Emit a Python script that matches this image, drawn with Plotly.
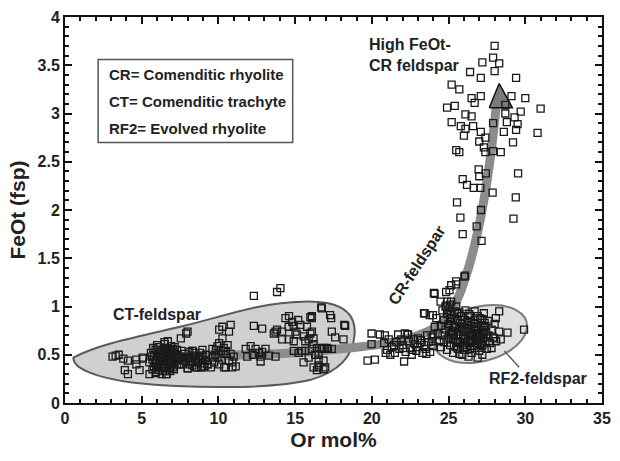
import plotly.graph_objects as go

# Feldspar analyses: Or content (mol%) and FeOt (wt%)
ct_x = [3.1, 3.3, 3.5, 3.8, 4.1, 3.9, 4.1, 4.65, 5.07, 4.65, 4.86, 5.07, 5.51, 5.94, 6.59, 7.02, 6.8, 6.48, 6.92, 6.63,
        5.6, 5.7, 5.8, 5.9, 6.0, 6.0, 6.1, 6.1, 6.2, 6.2, 6.3, 6.3, 6.4, 6.4, 6.5, 6.5, 6.6, 6.6, 6.7, 6.7,
        6.8, 6.8, 6.9, 6.9, 7.0, 7.0, 7.1, 7.1, 7.2, 7.3, 7.3, 7.4, 5.5, 5.7, 5.9, 6.3, 6.0, 6.5, 6.7, 5.8,
        6.35, 6.55, 6.85, 7.15, 6.15, 5.95,
        5.65, 5.85, 6.05, 6.25, 6.45, 6.65, 6.85, 7.05, 7.25, 5.75, 5.95, 6.15, 6.35, 6.55, 6.75, 6.95,
        7.15, 7.35, 6.05, 6.45, 6.85, 7.6, 7.85, 8.15, 8.45, 8.65, 8.95, 9.15,
        7.5, 7.6, 7.7, 7.8, 7.9, 8.0, 8.0, 8.1, 8.2, 8.3, 8.4, 8.5, 8.6, 8.7, 8.8, 8.9, 9.0, 9.1, 9.2, 9.3,
        7.55, 7.9, 8.3, 8.1, 8.75, 8.96, 9.29, 8.54, 7.99, 7.45, 7.99,
        9.61, 9.94, 10.16, 10.48, 10.69, 10.91, 11.13, 10.37, 9.72, 9.94, 10.05, 10.26, 10.8, 10.69, 10.26,
        10.05, 10.48, 10.8, 10.91, 10.05, 9.61, 9.83, 8.96, 8.86, 9.51, 10.48, 8.32, 10.2, 10.6, 9.8, 10.35, 11.0,
        11.78, 12.1, 12.42, 12.85, 12.75, 13.72, 11.88, 12.25, 12.75, 12.64, 13.29, 13.07, 12.31, 12.85,
        12.31, 13.82, 14.04,
        14.37, 14.8, 14.58, 14.15, 15.02, 15.34, 15.77, 15.99, 15.56, 15.12, 14.58, 14.15, 13.82, 13.61,
        15.88, 16.2, 14.91, 16.09, 15.99, 14.6, 14.9, 15.2, 13.72,
        14.91, 15.23, 15.66, 16.09, 16.42, 16.74, 17.07, 17.39, 16.31, 16.53, 16.85, 16.53, 16.42, 16.96,
        16.53, 16.85, 16.2, 15.55, 15.88, 16.53, 17.13, 16.85, 15.44,
        16.74, 17.35, 16.09, 18.26, 18.15, 17.61, 17.39, 16.09, 15.66, 16.2, 17.28, 16.7, 18.2]
ct_y = [0.48, 0.49, 0.50, 0.46, 0.44, 0.34, 0.30, 0.45, 0.46, 0.40, 0.34, 0.47, 0.30, 0.32, 0.30, 0.37, 0.42, 0.63, 0.59, 0.30,
        0.52, 0.45, 0.38, 0.55, 0.48, 0.41, 0.34, 0.58, 0.51, 0.44, 0.37, 0.55, 0.47, 0.40, 0.33, 0.53, 0.46, 0.57, 0.42, 0.50,
        0.36, 0.55, 0.45, 0.39, 0.52, 0.47, 0.35, 0.43, 0.50, 0.40, 0.55, 0.45, 0.42, 0.35, 0.31, 0.30, 0.60, 0.61, 0.64, 0.49,
        0.50, 0.39, 0.49, 0.58, 0.47, 0.44,
        0.48, 0.41, 0.53, 0.46, 0.38, 0.52, 0.43, 0.56, 0.46, 0.57, 0.37, 0.40, 0.43, 0.49, 0.36, 0.54,
        0.48, 0.50, 0.37, 0.57, 0.33, 0.54, 0.46, 0.40, 0.52, 0.42, 0.49, 0.44,
        0.48, 0.40, 0.44, 0.51, 0.42, 0.36, 0.47, 0.53, 0.44, 0.39, 0.49, 0.43, 0.37, 0.47, 0.52, 0.41, 0.45, 0.38, 0.50, 0.40,
        0.67, 0.72, 0.54, 0.47, 0.46, 0.37, 0.40, 0.37, 0.36, 0.40, 0.74,
        0.56, 0.59, 0.54, 0.51, 0.44, 0.42, 0.38, 0.37, 0.42, 0.47, 0.76, 0.79, 0.81, 0.74, 0.67,
        0.62, 0.54, 0.51, 0.37, 0.40, 0.47, 0.55, 0.55, 0.37, 0.37, 0.37, 0.54, 0.45, 0.60, 0.50, 0.57, 0.48,
        0.56, 0.59, 0.56, 0.53, 0.48, 0.48, 0.48, 0.50, 0.43, 0.52, 0.49, 0.56, 0.80, 0.77,
        1.11, 1.15, 1.19,
        0.88, 0.84, 0.79, 0.74, 0.74, 0.81, 0.79, 0.72, 0.69, 0.71, 0.66, 0.66, 0.76, 0.72,
        0.66, 0.67, 0.64, 0.90, 0.89, 0.90, 0.80, 0.86, 0.74,
        0.54, 0.52, 0.54, 0.56, 0.57, 0.56, 0.57, 0.56, 0.50, 0.45, 0.44, 0.37, 0.34, 0.37,
        0.39, 0.35, 0.37, 0.42, 0.47, 0.50, 0.56, 0.57, 0.54,
        0.98, 0.88, 0.88, 0.80, 0.66, 0.68, 0.74, 0.74, 0.64, 0.61, 0.91, 0.99, 0.81]

cr_x = [19.98, 20.52, 20.85, 19.98, 19.72, 20.2, 22.1, 21.71, 22.31, 23.0, 22.15, 22.36, 23.44, 23.98, 24.09,
        20.8, 21.0, 21.1, 21.3, 21.5, 21.6, 21.8, 21.9, 22.0, 22.2, 22.4, 22.5, 22.6, 22.8, 22.9, 23.0,
        23.2, 23.3, 23.4, 23.5, 23.7, 23.8, 23.9, 24.0, 21.2, 22.7, 23.6, 20.9,
        21.45, 22.05, 22.65, 23.15, 23.55, 23.95,
        25.49, 25.17, 25.06, 24.84, 24.04, 26.07, 25.49, 26.03,
        26.96, 27.43, 27.0, 29.53, 25.92, 26.2, 26.64, 27.07, 27.87, 29.38, 25.55, 27.11, 25.77, 29.23,
        26.83, 25.92, 27.15,
        28.0, 27.2, 27.9, 28.3, 28.0, 26.4, 27.1, 29.4, 25.2, 25.7, 26.5, 27.1, 26.7, 29.1, 30.0, 31.0,
        24.9, 25.4, 28.7, 26.1, 26.5, 28.7, 29.7, 29.3, 28.8, 27.9, 29.5, 25.2, 25.8, 26.1, 26.6, 27.1,
        28.6, 29.4, 30.8, 26.0, 27.0, 27.4, 29.2, 27.3, 25.5, 25.7, 27.4, 27.9, 28.4]
cr_y = [0.72, 0.71, 0.70, 0.61, 0.44, 0.45, 0.43, 0.71, 0.71, 0.67, 0.72, 0.71, 0.93, 0.91, 1.13,
        0.62, 0.55, 0.66, 0.58, 0.52, 0.63, 0.56, 0.66, 0.60, 0.53, 0.64, 0.57, 0.50, 0.61, 0.54, 0.58,
        0.65, 0.52, 0.60, 0.56, 0.63, 0.53, 0.68, 0.59, 0.50, 0.66, 0.70, 0.52,
        0.60, 0.57, 0.55, 0.62, 0.51, 0.64,
        1.23, 1.22, 1.17, 1.15, 1.14, 1.32, 1.26, 1.31,
        2.42, 2.38, 2.35, 2.38, 2.32, 2.26, 2.23, 2.23, 2.18, 2.13, 2.08, 2.00, 1.92, 1.91,
        1.83, 1.75, 1.68,
        3.70, 3.53, 3.58, 3.52, 3.44, 3.43, 3.37, 3.37, 3.30, 3.25, 3.16, 3.18, 3.11, 3.18, 3.16, 3.05,
        3.06, 3.08, 3.09, 2.99, 2.97, 3.00, 3.02, 2.96, 2.91, 2.90, 2.89, 2.91, 2.87, 2.84, 2.87, 2.81,
        2.81, 2.83, 2.80, 2.77, 2.71, 2.75, 2.70, 2.65, 2.62, 2.60, 2.60, 2.61, 2.60]

rf2_x = [24.3, 24.4, 24.5, 24.5, 24.6, 24.7, 24.7, 24.8, 24.9, 24.9, 25.0, 25.0, 25.1, 25.2, 25.2, 25.3,
         25.3, 25.4, 25.4, 25.5, 25.5, 25.6, 25.6, 25.7, 25.7, 25.8, 25.8, 25.9, 25.9, 26.0, 26.0, 26.1,
         26.1, 26.2, 26.2, 26.3, 26.3, 26.4, 26.4, 26.5, 26.5, 26.6, 26.6, 26.7, 26.7, 26.8, 26.8, 26.9,
         26.9, 27.0, 27.0, 27.1, 27.1, 27.2, 27.2, 27.3, 27.4, 27.4, 27.5, 27.6, 27.6, 27.7, 27.8, 27.9,
         28.0, 28.1, 24.6, 24.8, 25.1, 25.5, 26.7, 27.3, 25.9, 26.3, 27.8, 24.2, 24.1, 24.0, 28.3, 28.4,
         28.08, 28.3, 28.84, 29.92, 27.98, 27.2, 26.9, 24.9, 25.17, 24.48, 24.84, 24.95, 23.4, 23.77,
         25.15, 25.65, 26.05, 26.45, 26.85, 25.35, 25.75, 26.25, 26.65, 27.05,
         25.05, 25.25, 25.45, 25.65, 25.85, 26.05, 26.25, 26.45, 26.65, 26.85, 27.05, 27.25, 27.45,
         25.15, 25.35, 25.55, 25.75, 25.95, 26.15, 26.35, 26.55, 26.75, 26.95, 27.15, 27.35,
         24.75, 24.95, 25.1, 25.3, 25.5, 25.7, 25.9, 26.1, 26.3, 26.5, 26.7, 26.9, 27.1, 27.3, 27.5,
         25.6, 26.0, 26.4, 26.8, 27.2]
rf2_y = [0.72, 0.64, 0.80, 0.58, 0.70, 0.86, 0.63, 0.76, 0.55, 0.92, 0.68, 0.82, 0.60, 0.75, 0.88, 0.52,
         0.66, 0.80, 0.95, 0.71, 0.58, 0.85, 0.64, 0.77, 0.51, 0.90, 0.69, 0.60, 0.82, 0.74, 0.55, 0.96,
         0.66, 0.84, 0.58, 0.77, 0.70, 0.62, 0.90, 0.52, 0.80, 0.72, 0.66, 0.86, 0.57, 0.76, 0.68, 0.62,
         0.83, 0.72, 0.54, 0.78, 0.66, 0.60, 0.87, 0.73, 0.64, 0.80, 0.56, 0.70, 0.85, 0.62, 0.76, 0.68,
         0.82, 0.64, 0.96, 1.00, 1.02, 1.00, 0.95, 0.93, 0.50, 0.48, 0.57, 0.88, 0.79, 0.70, 0.74, 0.66,
         0.88, 0.95, 0.73, 0.76, 0.67, 0.50, 0.47, 1.05, 1.05, 1.05, 1.01, 0.96, 0.93, 0.91,
         0.70, 0.74, 0.67, 0.75, 0.71, 0.79, 0.63, 0.81, 0.77, 0.69,
         0.78, 0.71, 0.87, 0.62, 0.79, 0.86, 0.64, 0.71, 0.82, 0.60, 0.88, 0.68, 0.74,
         0.91, 0.59, 0.93, 0.83, 0.69, 0.75, 0.92, 0.65, 0.79, 0.71, 0.59, 0.83,
         0.73, 0.66, 0.87, 0.74, 0.63, 0.94, 0.77, 0.58, 0.85, 0.69, 0.75, 0.90, 0.62, 0.79, 0.68,
         0.56, 0.62, 0.56, 0.64, 0.74]

# Gray trend arrow path (Or mol%, FeOt)
trend_x = [5.5, 10.0, 15.0, 18.5, 21.0, 23.0, 24.5, 25.5, 26.3, 27.0, 27.6, 28.1]
trend_y = [0.48, 0.49, 0.52, 0.57, 0.62, 0.70, 0.82, 1.05, 1.40, 1.85, 2.40, 3.06]
head_x = [27.65, 28.3, 29.16, 27.65]
head_y = [3.06, 3.31, 3.06, 3.06]

legend_lines = ["CR= Comenditic rhyolite", "CT= Comenditic trachyte", "RF2= Evolved rhyolite"]
legend_y = [3.40, 3.12, 2.84]

FONT = "Liberation Sans, Arial, sans-serif"


def ellipse_path(cx, cy, ax, ay, bx, by, k=0.5523):
    """Closed cubic-Bezier ellipse from a centre and two conjugate semi-axes."""
    p = [(cx + ax, cy + ay), (cx + bx, cy + by), (cx - ax, cy - ay), (cx - bx, cy - by)]
    t = [(bx, by), (-ax, -ay), (-bx, -by), (ax, ay)]
    d = "M {:.3f},{:.3f} ".format(*p[0])
    for i in range(4):
        p0, p1 = p[i], p[(i + 1) % 4]
        t0, t1 = t[i], t[(i + 1) % 4]
        c1 = (p0[0] + k * t0[0], p0[1] + k * t0[1])
        c2 = (p1[0] - k * t1[0], p1[1] - k * t1[1])
        d += "C {:.3f},{:.3f} {:.3f},{:.3f} {:.3f},{:.3f} ".format(*c1, *c2, *p1)
    return d + "Z"


fig = go.Figure()

fig.add_trace(go.Scatter(x=trend_x, y=trend_y, mode="lines",
                         line=dict(color="#8c8c8c", width=9, shape="spline", smoothing=1.0),
                         hoverinfo="skip"))
fig.add_trace(go.Scatter(x=head_x, y=head_y, mode="lines", fill="toself",
                         fillcolor="#7a7a7a", line=dict(color="#111", width=1.5),
                         hoverinfo="skip"))

all_x = ct_x + cr_x + rf2_x
all_y = ct_y + cr_y + rf2_y
fig.add_trace(go.Scatter(x=all_x, y=all_y, mode="markers",
                         marker=dict(symbol="square-open", size=7, color="#1a1a1a",
                                     line=dict(width=1.3, color="#1a1a1a"))))

shapes = [
    # CT-feldspar field
    dict(type="path", xref="x", yref="y", layer="below",
         path=("M 0.55,0.47 C 2,0.60 4.5,0.68 7.5,0.79 "
               "C 10.5,0.90 12.5,1.04 15.5,1.05 "
               "C 17.6,1.06 18.95,0.98 18.88,0.72 "
               "C 18.8,0.50 18.0,0.33 16.0,0.24 "
               "C 13.5,0.14 8.0,0.15 4.5,0.21 "
               "C 2.0,0.26 0.5,0.36 0.55,0.47 Z"),
         fillcolor="#d0d0d0", line=dict(color="#5a5a5a", width=2)),
    # RF2-feldspar field (slightly tilted ellipse)
    dict(type="path", xref="x", yref="y", layer="below",
         path=ellipse_path(27.08, 0.715, 3.02, 0.055, 0.27, 0.295),
         fillcolor="#e0e0e0", line=dict(color="#7a7a7a", width=2)),
    # leader line to RF2 label
    dict(type="line", xref="x", yref="y", x0=28.63, y0=0.54, x1=29.6, y1=0.37,
         line=dict(color="#555", width=1.3)),
    # abbreviation box
    dict(type="rect", xref="x", yref="y", x0=2.16, x1=14.84, y0=2.70, y1=3.56,
         fillcolor="white", line=dict(color="#555", width=1.5), layer="below"),
]

annotations = []
for txt, yy in zip(legend_lines, legend_y):
    annotations.append(dict(x=2.72, y=yy, xref="x", yref="y", text=txt, showarrow=False,
                            xanchor="left", yanchor="middle",
                            font=dict(family=FONT, size=15, color="#222", weight="bold")))
annotations += [
    dict(x=6.0, y=0.92, xref="x", yref="y", text="CT-feldspar", showarrow=False,
         font=dict(family=FONT, size=16, color="#222", weight="bold")),
    dict(x=30.85, y=0.25, xref="x", yref="y", text="RF2-feldspar", showarrow=False,
         font=dict(family=FONT, size=16, color="#222", weight="bold")),
    dict(x=19.7, y=3.61, xref="x", yref="y", text="High FeOt-<br>CR feldspar", showarrow=False,
         xanchor="left", align="left",
         font=dict(family=FONT, size=16, color="#222", weight="bold")),
    dict(x=22.9, y=1.43, xref="x", yref="y", text="CR-feldspar", showarrow=False, textangle=-57,
         font=dict(family=FONT, size=16, color="#222", weight="bold")),
]

axis_common = dict(showline=True, linewidth=2, linecolor="#111", mirror="allticks",
                   ticks="inside", ticklen=7, tickwidth=1.5, tickcolor="#111",
                   showgrid=False, zeroline=False,
                   tickfont=dict(family=FONT, size=16, color="#222", weight="bold"))

fig.update_layout(
    width=620, height=461,
    margin=dict(l=65, r=15, t=9, b=58),
    paper_bgcolor="white", plot_bgcolor="white",
    showlegend=False,
    shapes=shapes, annotations=annotations,
    xaxis=dict(range=[0, 35], dtick=5, tick0=0,
               minor=dict(dtick=1, ticklen=4, ticks="inside", tickcolor="#111"),
               title=dict(text="Or mol%", standoff=6,
                          font=dict(family=FONT, size=21, color="#222", weight="bold")),
               **axis_common),
    yaxis=dict(range=[0, 4], dtick=0.5, tick0=0,
               minor=dict(dtick=0.1, ticklen=4, ticks="inside", tickcolor="#111"),
               title=dict(text="FeOt (fsp)", standoff=6,
                          font=dict(family=FONT, size=21, color="#222", weight="bold")),
               **axis_common),
)

fig.write_html("out.html")
